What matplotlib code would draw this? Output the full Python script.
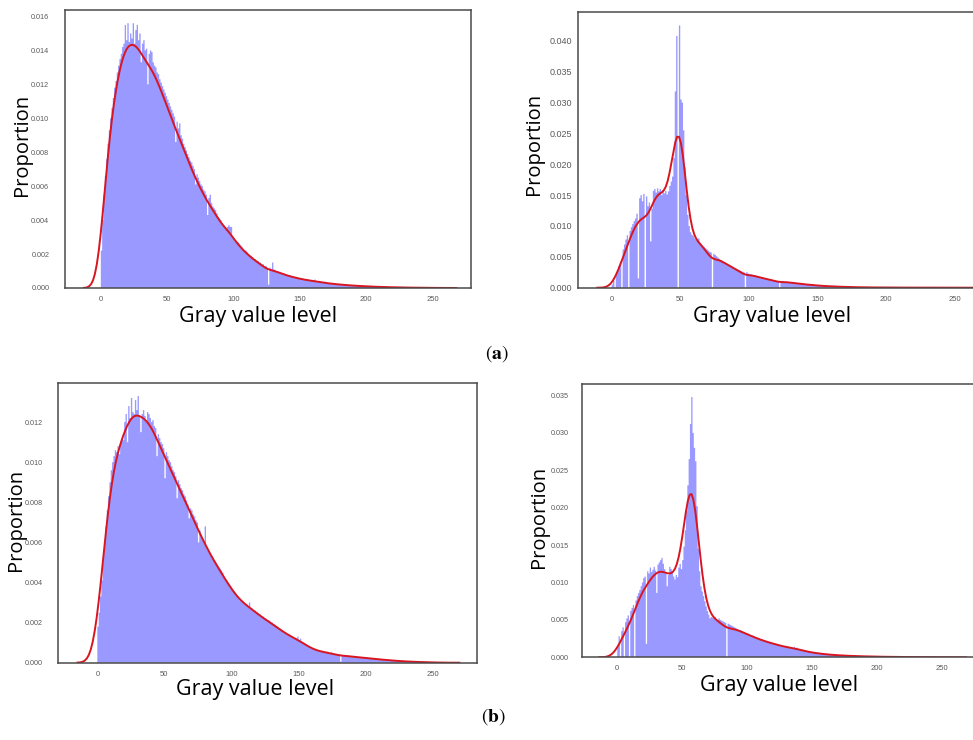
import numpy as np
import matplotlib
matplotlib.use("Agg")
import matplotlib.pyplot as plt

plt.rcParams['mathtext.fontset'] = 'stix'

levels = np.arange(256)
edges = np.arange(257)

# proportion of pixels per gray level (units of 1e-4)
hist_a_left = [
    22, 40, 55, 66, 76, 85, 93, 100, 106, 112, 118, 122, 127, 131, 135, 138,
    142, 144, 155, 146, 156, 145, 150, 147, 156, 144, 152, 155, 146, 150, 133, 144,
    146, 140, 141, 120, 138, 140, 139, 133, 131, 130, 127, 126, 123, 121, 119, 117,
    115, 113, 111, 109, 107, 105, 103, 101, 86, 98, 94, 97, 90, 88, 85, 83,
    81, 79, 77, 75, 74, 72, 70, 61, 67, 65, 63, 61, 60, 58, 57, 55,
    43, 53, 55, 50, 48, 47, 46, 44, 42, 41, 40, 38, 37, 36, 35, 36,
    37, 36, 36, 30, 29, 28, 27, 27, 26, 25, 24, 23, 22, 22, 21, 20,
    19, 19, 18, 17, 17, 16, 16, 15, 15, 14, 14, 13, 13, 12, 2, 12,
    11, 15, 11, 10.5, 10, 9.6, 9.3, 9, 8.7, 8.4, 8.2, 7.9, 7.7, 7.5, 7.2, 7.0,
    6.8, 6.6, 6.4, 6.2, 6.0, 5.8, 5.6, 5.4, 5.3, 5.1, 5.0, 4.8, 4.7, 4.5, 4.4, 4.2,
    4.1, 5.0, 3.9, 3.8, 3.7, 3.6, 3.4, 3.3, 3.2, 3.1, 3.0, 2.9, 2.8, 2.7, 2.6, 2.5,
    2.4, 2.3, 2.3, 2.2, 2.1, 2.0, 2.0, 1.9, 1.8, 1.8, 1.7, 1.6, 1.6, 1.5, 1.5, 1.4,
    1.4, 1.3, 1.3, 1.2, 1.2, 1.1, 1.1, 1.1, 1.0, 1.0, 0.9, 0.9, 0.9, 0.8, 0.8, 0.8,
    0.7, 0.7, 0.7, 0.6, 0.6, 0.6, 0.6, 0.5, 0.5, 0.5, 0.5, 0.5, 0.4, 0.4, 0.4, 0.4,
    0.4, 0.3, 0.3, 0.3, 0.3, 0.3, 0.3, 0.3, 0.2, 0.2, 0.2, 0.2, 0.2, 0.2, 0.2, 0.2,
    0.2, 0.1, 0.1, 0.1, 0.1, 0.1, 0.1, 0.1, 0.1, 0.1, 0.1, 0.1, 0.1, 0.1, 0.1, 0.1,
]

hist_a_right = [
    5, 12, 0, 22, 28, 35, 42, 0, 62, 70, 78, 85, 0, 92, 98, 103,
    108, 112, 120, 15, 145, 150, 140, 152, 0, 148, 132, 138, 75, 128, 157, 160,
    154, 161, 156, 160, 150, 158, 153, 157, 151, 156, 165, 172, 180, 210, 318, 408,
    0, 425, 305, 300, 255, 195, 150, 118, 100, 90, 86, 84, 80, 78, 76, 80,
    72, 70, 68, 66, 64, 62, 60, 58, 57, 0, 55, 53, 51, 49, 47, 45,
    44, 42, 41, 40, 38, 37, 36, 35, 33, 32, 31, 30, 29, 28, 27, 26,
    25, 0, 25, 23, 22, 22, 21, 20, 20, 19, 18, 17, 17, 16, 16, 15,
    15, 14, 14, 13, 13, 12, 12, 11, 11, 11, 0, 11, 10.5, 10, 10, 9.5,
    9, 9, 8.5, 8, 8, 7.5, 7.5, 7, 6.8, 6.5, 6.2, 6, 5.7, 5.4, 5.2, 5,
    4.8, 4.6, 4.4, 4.2, 4, 3.8, 3.6, 3.4, 3.2, 3.0, 2.9, 2.8, 2.6, 2.5, 2.4, 2.3,
    2.2, 2.1, 2.0, 1.9, 1.8, 1.7, 1.6, 1.5, 1.5, 1.4, 1.3, 1.2, 1.2, 1.1, 1.0, 1.0,
    0.9, 0.9, 0.8, 0.8, 0.7, 0.7, 0.7, 0.6, 0.6, 0.6, 0.5, 0.5, 0.5, 0.5, 0.4, 0.4,
    0.4, 0.4, 0.4, 0.4, 0.3, 0.3, 0.3, 0.3, 0.3, 0.3, 0.3, 0.2, 0.2, 0.2, 0.2, 0.2,
    0.2, 0.2, 0.2, 0.2, 0.2, 0.2, 0.2, 0.2, 0.1, 0.1, 0.1, 0.1, 0.1, 0.1, 0.1, 0.1,
    0.1, 0.1, 0.1, 0.1, 0.1, 0.1, 0.1, 0.1, 0.1, 0.1, 0.1, 0.1, 0.1, 0.1, 0.1, 0.1,
    0.1, 0.1, 0.1, 0.1, 0.1, 0.1, 0.1, 0.1, 0.1, 0.1, 0.1, 0.1, 0.1, 0.1, 0.1, 0.1,
]

hist_b_left = [
    18, 25, 33, 41, 50, 60, 68, 76, 83, 90, 96, 100, 103, 106, 105, 108,
    104, 110, 112, 111, 120, 124, 110, 128, 122, 132, 125, 124, 131, 126, 133, 123,
    115, 124, 126, 123, 121, 125, 124, 122, 120, 121, 118, 117, 103, 114, 112, 110,
    109, 107, 92, 105, 103, 101, 100, 98, 96, 95, 93, 82, 91, 89, 87, 86,
    84, 83, 81, 79, 72, 77, 76, 74, 73, 71, 70, 60, 66, 64, 62, 60,
    68, 57, 56, 55, 54, 53, 52, 51, 50, 49, 48, 47, 46, 45, 43, 42,
    41, 40, 39, 38, 37, 36, 35, 34, 33, 32, 31, 31, 30, 30, 29, 29,
    28, 30, 27, 27, 26, 26, 25, 25, 24, 24, 23, 23, 22, 22, 21, 21,
    21, 20, 20, 19, 19, 18, 18, 17, 17, 16, 16, 15, 15, 14, 14, 14,
    13, 13, 12, 12, 12, 13, 11, 12, 10, 10, 9.5, 9, 8.5, 8, 7.5, 7,
    7, 6.5, 6.5, 6, 6, 6, 5.5, 5.5, 5.5, 5, 5, 5.5, 4.8, 4.7, 5.2, 4.5,
    4.4, 4.3, 4.2, 4.1, 4.0, 0.5, 3.9, 3.8, 3.7, 3.6, 3.5, 3.4, 3.3, 3.2, 3.1, 3.0,
    2.9, 2.8, 2.8, 2.7, 2.6, 2.6, 2.5, 2.4, 2.4, 2.3, 2.2, 2.2, 2.1, 2.0, 2.0, 1.9,
    1.8, 1.8, 1.7, 1.6, 1.6, 1.5, 1.4, 1.4, 1.3, 1.3, 1.2, 1.1, 1.1, 1.0, 1.0, 0.9,
    0.9, 0.8, 0.8, 0.8, 0.7, 0.7, 0.6, 0.6, 0.6, 0.5, 0.5, 0.5, 0.4, 0.4, 0.4, 0.4,
    0.3, 0.3, 0.3, 0.3, 0.3, 0.2, 0.2, 0.2, 0.2, 0.2, 0.2, 0.1, 0.1, 0.1, 0.1, 0.1,
]

hist_b_right = [
    15, 28, 0, 35, 40, 0, 47, 52, 56, 0, 62, 66, 70, 0, 76, 82,
    86, 90, 95, 100, 106, 108, 18, 115, 112, 120, 114, 117, 121, 116, 86, 124,
    127, 130, 133, 125, 118, 112, 95, 110, 121, 118, 115, 108, 104, 110, 107, 120,
    125, 118, 130, 148, 170, 195, 230, 265, 312, 348, 300, 280, 262, 202, 145, 115,
    95, 88, 82, 75, 68, 62, 57, 52, 54, 53, 52, 54, 51, 50, 52, 50,
    49, 48, 47, 46, 0, 45, 44, 43, 42, 41, 40, 39, 38, 37, 36, 36,
    35, 34, 33, 32, 32, 31, 30, 29, 29, 28, 27, 26, 26, 25, 24, 24,
    23, 22, 22, 21, 21, 20, 20, 19, 19, 18, 18, 17, 17, 16, 16, 15,
    15, 14, 14, 14, 13, 13, 13, 12, 14, 12, 13, 11, 10, 10, 9.5, 9,
    8.5, 8, 8, 7.5, 7, 7, 6.5, 6.2, 6, 5.8, 5.5, 5.3, 5, 4.8, 4.6, 4.4,
    4.2, 4.0, 3.9, 3.7, 3.6, 3.4, 3.3, 3.1, 3.0, 2.9, 2.8, 2.7, 2.6, 2.5, 2.4, 2.3,
    2.2, 2.1, 2.0, 2.0, 1.9, 1.8, 1.8, 1.7, 1.6, 1.6, 1.5, 1.5, 1.4, 1.4, 1.3, 1.3,
    1.2, 1.2, 1.1, 1.1, 1.0, 1.0, 1.0, 0.9, 0.9, 0.9, 0.8, 0.8, 0.8, 0.7, 0.7, 0.7,
    0.6, 0.6, 0.6, 0.6, 0.6, 0.6, 0.5, 0.5, 0.5, 0.5, 0.5, 0.4, 0.4, 0.4, 0.4, 0.4,
    0.4, 0.3, 0.3, 0.3, 0.3, 0.3, 0.3, 0.3, 0.2, 0.2, 0.2, 0.2, 0.2, 0.2, 0.2, 0.2,
    0.2, 0.2, 0.2, 0.2, 0.1, 0.1, 0.1, 0.1, 0.1, 0.1, 0.1, 0.1, 0.1, 0.1, 0.1, 0.1,
]

panel_hists = [hist_a_left, hist_a_right, hist_b_left, hist_b_right]
kde_bandwidths = [4.3, 3.5, 4.95, 4.6]
y_tick_steps = [0.002, 0.005, 0.002, 0.005]
x_ticks = [0, 50, 100, 150, 200, 250]


def kde_curve(vals, bw, cut=3, n=200):
    w = np.asarray(vals, float)
    w = w / w.sum()
    x = np.linspace(levels.min() - cut * bw, levels.max() + cut * bw, n)
    z = (x[:, None] - levels[None, :]) / bw
    y = (np.exp(-0.5 * z ** 2) / (bw * np.sqrt(2 * np.pi))) @ w
    return x, y


W, H = 973, 740
fig = plt.figure(figsize=(W / 100, H / 100), dpi=100)

# pixel boxes (left, right, top, bottom) measured on the reference
boxes = [(65, 471, 10, 288), (578.3, 994.9, 12.3, 287.7),
         (58.3, 476.7, 382.7, 662.7), (581.7, 983.6, 384, 657.3)]
xlims = [(-27, 279), (-24.3, 279.3), (-29.1, 282.8), (-27.4, 282.3)]
ytick_size = [5.2, 6.5, 5.2, 5.2]
ytick_pad = [11.3, 4.8, 11.2, 9.1]
xtick_pad = [6.0, 6.0, 6.3, 5.3]
ylabel_pos = [(22, 145), (534, 143.5), (16.5, 520), (539, 516.7)]
xlabel_pos = [(258, 316), (771.7, 316), (254.7, 689), (778.7, 686)]
tick_font = ['Liberation Sans Narrow', 'Liberation Sans', 'DejaVu Sans']

for i, vals in enumerate(panel_hists):
    l, r, t, b = boxes[i]
    ax = fig.add_axes([l / W, 1 - b / H, (r - l) / W, (b - t) / H])
    p = np.asarray(vals, float) * 1e-4
    ax.hist(levels, bins=edges, weights=p, histtype='stepfilled',
            color='blue', alpha=0.4, linewidth=0)
    kx, ky = kde_curve(vals, kde_bandwidths[i])
    ax.plot(kx, ky, color='#d9151f', linewidth=1.4)
    ax.set_xlim(*xlims[i])
    ax.set_ylim(0, p.max() * 1.05)
    ax.set_xticks(x_ticks)
    step = y_tick_steps[i]
    ax.set_yticks(np.arange(0, p.max() * 1.05, step))
    ax.yaxis.set_major_formatter(matplotlib.ticker.FormatStrFormatter('%.3f'))
    ax.tick_params(axis='both', length=0, colors='#5a5a5a')
    ax.tick_params(axis='y', labelsize=ytick_size[i], pad=ytick_pad[i])
    ax.tick_params(axis='x', labelsize=5.5, pad=xtick_pad[i])
    for tl in ax.get_xticklabels() + ax.get_yticklabels():
        tl.set_fontfamily(tick_font)
    for s in ax.spines.values():
        s.set_color('#4a4a4a')
        s.set_linewidth(1.1)

    yx, yy = ylabel_pos[i]
    fig.text(yx / W, 1 - yy / H, 'Proportion', rotation=90, ha='center',
             va='center', fontsize=14.5, fontfamily='Open Sans')
    xx, xy = xlabel_pos[i]
    fig.text(xx / W, 1 - xy / H, 'Gray value level', ha='center',
             va='center', fontsize=15.5, fontfamily='Open Sans')

fig.text(497 / W, 1 - 354 / H, r'$(\mathbf{a})$', ha='center', va='center',
         fontsize=14)
fig.text(493 / W, 1 - 717 / H, r'$(\mathbf{b})$', ha='center', va='center',
         fontsize=14)

fig.savefig('out.png', dpi=100)
